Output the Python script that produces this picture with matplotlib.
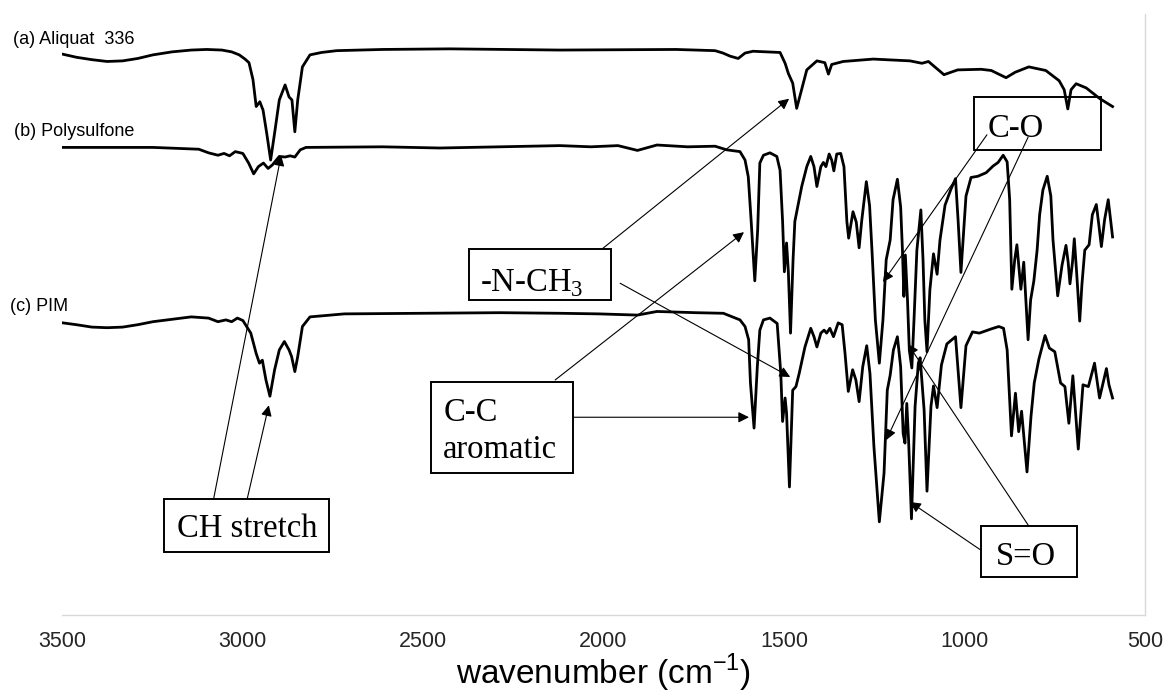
import matplotlib
matplotlib.use("Agg")
import matplotlib.pyplot as plt
from matplotlib.patches import Rectangle

# espectros FTIR (transmitancia en unidades arbitrarias, ya desplazadas)
wn_a = [3497, 3460, 3417, 3375, 3332, 3290, 3248, 3195, 3142, 3099,
        3057, 3030, 3009, 2993, 2982, 2971, 2962, 2952,
        2943, 2933, 2922, 2911, 2898, 2882, 2871, 2863, 2855, 2847,
        2834, 2813, 2781, 2739, 2612, 2425, 2121, 1799, 1691, 1669, 1650,
        1627, 1608, 1586, 1511, 1497, 1488, 1476, 1465, 1454, 1437,
        1409, 1387, 1377, 1368, 1336, 1253, 1151, 1118, 1100, 1057,
        1019, 954, 926, 885, 860, 822, 775, 738, 724, 714,
        705, 691, 663, 625, 590]
t_a = [93.3, 92.8, 92.4, 92.1, 92.2, 92.6, 93.2, 93.7, 94.0, 94.1,
       94.0, 93.7, 93.2, 92.5, 91.9, 89.1, 84.6, 85.4,
       84.0, 80.2, 75.7, 80.2, 85.7, 88.2, 86.2, 85.7, 80.4, 85.7,
       91.2, 93.2, 93.6, 93.9, 94.1, 94.2, 94.0, 94.1, 93.9, 93.5, 93.0,
       92.6, 93.5, 93.8, 93.6, 91.8, 90.1, 88.5, 84.3, 86.8, 90.7,
       92.2, 91.9, 90.0, 91.6, 92.1, 92.5, 92.2, 91.8, 92.1, 89.9,
       90.7, 90.8, 90.6, 89.4, 90.3, 91.2, 90.6, 88.9, 87.4, 84.2,
       87.4, 88.4, 87.7, 85.9, 84.6]

wn_b = [3497, 3248, 3121, 3094, 3068, 3051, 3036, 3020, 2999, 2983,
        2969, 2956, 2942, 2929, 2917, 2898, 2882, 2868, 2855, 2840,
        2824, 2612, 2453, 2294, 2121, 2035, 1960, 1906, 1852, 1767,
        1691, 1659, 1622, 1608, 1599, 1591, 1581, 1573, 1567, 1557,
        1539, 1520, 1511, 1504, 1499, 1493, 1488, 1482, 1475, 1470,
        1451, 1437, 1426, 1417, 1409, 1398, 1391, 1384, 1375, 1368,
        1362, 1354, 1343, 1334, 1326, 1321, 1309, 1300, 1292, 1285,
        1272, 1263, 1256, 1247, 1236, 1226, 1217, 1206, 1198, 1186,
        1177, 1172, 1168, 1164, 1158, 1153, 1146, 1140, 1132, 1121,
        1115, 1110, 1104, 1096, 1086, 1076, 1068, 1054, 1038, 1025,
        1018, 1010, 1004, 996, 982, 963, 940, 921, 907, 893,
        882, 875, 869, 861, 855, 850, 844, 836, 830, 824,
        817, 808, 799, 792, 783, 771, 761, 755, 742, 730,
        719, 713, 708, 701, 696, 690, 681, 675, 667, 655,
        646, 635, 628, 621, 612, 602, 594, 590]
t_b = [77.8, 77.8, 77.5, 76.9, 76.5, 76.8, 76.4, 77.1, 76.8, 75.2,
       73.4, 74.6, 75.2, 74.3, 74.9, 76.3, 76.2, 76.4, 76.2, 77.4,
       77.8, 77.9, 77.7, 77.9, 78.1, 77.9, 78.1, 77.3, 78.2, 77.9,
       78.0, 77.4, 77.1, 75.7, 72.9, 65.5, 55.6, 64.1, 75.2, 76.5,
       76.9, 76.3, 74.0, 65.5, 57.1, 61.9, 57.1, 46.9, 59.1, 65.5,
       71.3, 74.6, 76.3, 74.6, 71.3, 74.6, 75.3, 74.6, 76.7, 75.7,
       73.9, 76.7, 76.8, 74.6, 65.5, 62.7, 67.1, 65.4, 61.1, 65.5,
       72.1, 68.1, 60.2, 49.1, 41.9, 49.1, 59.1, 62.4, 69.1, 72.5,
       67.9, 60.7, 53.0, 59.9, 52.4, 44.1, 41.1, 49.1, 60.7, 67.4,
       59.1, 49.1, 43.8, 54.1, 60.1, 56.7, 62.4, 68.2, 70.8, 72.6,
       65.8, 57.0, 62.4, 69.7, 72.8, 73.0, 73.6, 74.7, 75.3, 76.5,
       75.4, 69.1, 54.2, 59.1, 61.6, 58.2, 54.2, 58.7, 52.4, 45.8,
       52.4, 55.6, 60.7, 66.6, 70.7, 73.0, 69.7, 62.4, 53.1, 58.2,
       61.5, 58.7, 55.1, 58.7, 62.6, 57.4, 48.9, 54.9, 60.7, 61.6,
       66.6, 68.3, 64.9, 61.3, 65.8, 69.1, 64.9, 62.9]

wn_c = [3497, 3460, 3417, 3375, 3332, 3290, 3248, 3195, 3142, 3094,
        3068, 3046, 3030, 3014, 2999,
        2977, 2962, 2953, 2945, 2935, 2924, 2911, 2898, 2884, 2871,
        2864, 2855, 2847, 2834, 2813, 2718, 2506, 2287, 2121, 2013,
        1906, 1852, 1745, 1668, 1622, 1608, 1598, 1593, 1583, 1574,
        1567, 1557, 1539, 1519, 1509, 1504, 1497, 1493, 1485, 1476,
        1467, 1458, 1442, 1426, 1417, 1409, 1398, 1389, 1382, 1373,
        1363, 1350, 1339, 1331, 1322, 1310, 1301, 1292, 1282, 1271,
        1262, 1251, 1236, 1223, 1214, 1206, 1197, 1186, 1177, 1170,
        1165, 1160, 1155, 1147, 1137, 1128, 1123, 1112, 1104, 1093,
        1086, 1076, 1064, 1049, 1025, 1010, 996, 978, 959, 926,
        905, 892, 882, 870, 859, 850, 842, 827, 816, 807,
        794, 777, 765, 750, 734, 722, 711, 700, 685, 672,
        657, 640, 626, 607, 600, 590]
t_c = [48.6, 48.3, 47.9, 47.8, 47.9, 48.3, 48.8, 49.2, 49.6, 49.4,
       48.8, 49.1, 48.8, 49.4, 49.0,
       46.9, 43.5, 41.9, 42.4, 39.1, 36.4, 40.8, 44.1, 45.5, 44.1,
       43.0, 40.5, 43.0, 48.0, 49.6, 50.1, 50.2, 50.3, 50.2, 50.1,
       49.9, 50.5, 50.3, 50.2, 49.1, 48.0, 45.8, 38.6, 31.1, 41.3,
       47.4, 49.1, 49.4, 48.5, 40.2, 32.2, 36.1, 33.6, 21.3, 37.4,
       38.0, 40.2, 44.6, 47.7, 46.3, 44.6, 46.9, 47.4, 46.9, 47.7,
       46.3, 48.6, 48.3, 43.5, 37.2, 40.8, 39.1, 35.5, 41.3, 44.8,
       40.2, 28.0, 15.5, 23.6, 37.4, 39.9, 44.1, 46.3, 41.3, 30.2,
       28.6, 35.2, 29.1, 16.0, 34.7, 41.9, 42.8, 34.1, 20.6, 34.7,
       38.1, 34.5, 41.6, 45.1, 46.3, 34.5, 44.8, 47.1, 46.9, 47.6,
       48.0, 47.7, 44.1, 29.8, 36.9, 30.5, 33.9, 23.8, 33.0, 38.6,
       42.6, 46.5, 44.4, 43.8, 38.6, 38.0, 31.9, 39.8, 27.6, 38.3,
       38.0, 41.9, 36.1, 41.0, 38.3, 36.1]

ticks = [3500, 3000, 2500, 2000, 1500, 1000, 500]
nombres = ["(a) Aliquat  336", "(b) Polysulfone", "(c) PIM"]

plt.rcParams['font.family'] = ['Liberation Sans', 'DejaVu Sans']
plt.rcParams['mathtext.fontset'] = 'custom'
plt.rcParams['mathtext.rm'] = 'Liberation Serif'
plt.rcParams['mathtext.sf'] = 'Liberation Sans'

fig = plt.figure(figsize=(11.67, 6.93), dpi=100)
ax = fig.add_axes([0.0531, 0.1126, 0.9281, 0.8672])

for wn, t in [(wn_a, t_a), (wn_b, t_b), (wn_c, t_c)]:
    ax.plot(wn, t, color='black', lw=2.0, solid_joinstyle='round')

ax.set_xlim(3500, 500)
ax.set_ylim(0, 100)
ax.set_xticks(ticks)
ax.set_xticklabels([str(v) for v in ticks])
ax.set_yticks([])
ax.tick_params(axis='x', length=0, pad=11.5, labelsize=15.5, labelcolor='#262626')
for lado in ['left', 'top']:
    ax.spines[lado].set_visible(False)
for lado in ['right', 'bottom']:
    ax.spines[lado].set_color('#d9d9d9')
    ax.spines[lado].set_linewidth(1.0)

ax.set_xlabel('wavenumber (cm$^{\\mathsf{-1}}$)', fontsize=24, va='baseline')
ax.xaxis.set_label_coords(0.5, -0.1148)

# etiquetas de cada espectro
pos_nombres = [(3637, 95.0), (3634, 79.7), (3645, 50.5)]
for txt, (x, y) in zip(nombres, pos_nombres):
    ax.text(x, y, txt, fontsize=13, ha='left', va='baseline', clip_on=False)

# cajas de anotacion
serif = 'Liberation Serif'
cajas = [(2760, 10.5, 457, 8.8),
         (2084.5, 23.7, 394.7, 15.1),
         (1978, 52.4, 394.6, 8.5),
         (622, 77.4, 351.8, 8.8),
         (689.3, 6.3, 265.9, 8.5)]
for x0, y0, w, h in cajas:
    ax.add_patch(Rectangle((x0, y0), w, h, fill=False, ec='black', lw=1.4))

fs = 23.5
ax.text(2988, 12.9, 'CH stretch', fontsize=fs, family=serif, ha='center', va='baseline')
ax.text(2444, 32.3, 'C-C', fontsize=fs, family=serif, ha='left', va='baseline')
ax.text(2444, 26.1, 'aromatic', fontsize=fs, family=serif, ha='left', va='baseline')
ax.text(2341, 53.8, '-N-CH$_3$', fontsize=fs, family=serif, ha='left', va='baseline')
ax.text(935, 79.5, 'C-O', fontsize=fs, family=serif, ha='left', va='baseline')
ax.text(914, 8.3, 'S=O', fontsize=fs, family=serif, ha='left', va='baseline')

# flechas (inicio, punta)
flechas = [((3080, 19.3), (2893, 76.5)),
           ((2987, 19.3), (2927, 34.9)),
           ((2134, 39.1), (1611, 63.7)),
           ((2083, 32.9), (1597, 32.9)),
           ((2004, 60.9), (1486, 85.9)),
           ((1954, 55.2), (1483, 39.6)),
           ((938, 79.9), (1226, 55.4)),
           ((824, 79.5), (1217, 29.1)),
           ((822, 14.8), (1157, 45.1)),
           ((955, 10.8), (1151, 18.8))]
for ini, fin in flechas:
    ax.annotate('', xy=fin, xytext=ini,
                arrowprops=dict(arrowstyle='-|>', color='black', lw=0.8,
                                mutation_scale=16, shrinkA=0, shrinkB=0))

fig.savefig('out.png', dpi=100)
